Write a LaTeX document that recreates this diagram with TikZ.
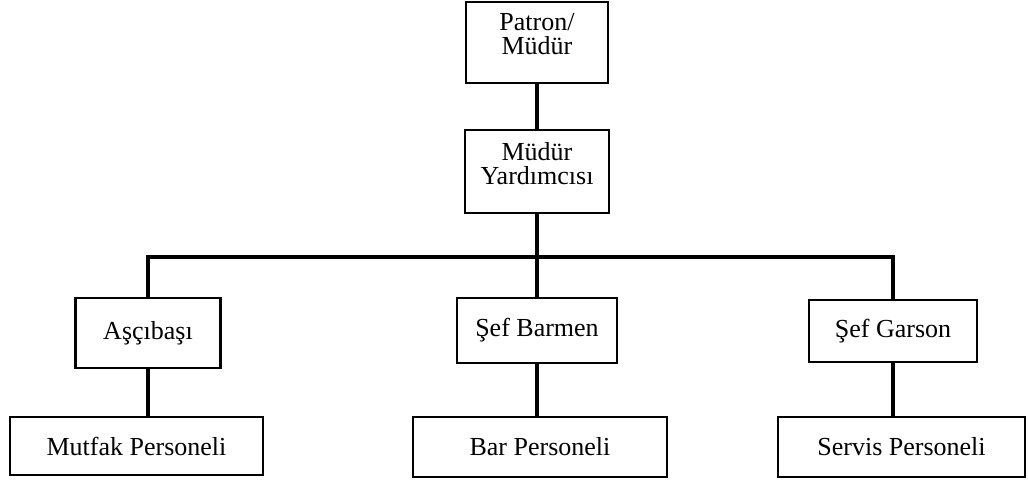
\documentclass[tikz,border=0pt]{standalone}
\usepackage{fontspec}
\setmainfont{Liberation Serif}
\begin{document}
\begin{tikzpicture}[x=1pt,y=-1pt,
  box/.style={draw, line width=2.8pt, rectangle, inner sep=0pt,
    font=\fontsize{26}{24}\selectfont},
  lbl/.style={font=\fontsize{26}{24}\selectfont, align=center, inner sep=0pt},
  link/.style={line width=3.2pt}]
\fill[white] (0,0) rectangle (1028,483);
\useasboundingbox (0,0) rectangle (1028,483);

% top management
\node[box, minimum width=142pt, minimum height=81pt] (pm) at (537,42.5) {};
\node[lbl] (pmt) at (537,34) {Patron/\\Müdür};
\node[box, minimum width=144pt, minimum height=83pt] (my) at (537,171.5) {};
\node[lbl] (myt) at (537,164) {Müdür\\Yardımcısı};

% department heads
\node[box, minimum width=145pt, minimum height=70pt] (ab) at (148,333) {Aşçıbaşı};
\node[box, minimum width=160pt, minimum height=65pt] (sb) at (537,330.5) {Şef Barmen};
\node[box, minimum width=168pt, minimum height=62pt] (sg) at (893,331) {Şef Garson};

% staff
\node[box, minimum width=253pt, minimum height=58pt] (mp) at (136.5,446) {Mutfak Personeli};
\node[box, minimum width=254pt, minimum height=60pt] (bp) at (540,447) {Bar Personeli};
\node[box, minimum width=247pt, minimum height=60pt] (sp) at (901.5,447) {Servis Personeli};

% connectors
\coordinate (bus) at (537,257);
\draw[link] (pm.south) -- (my.north);
\draw[link] (my.south) -- (bus);
\draw[link] (ab.north) |- (sg.north |- bus) -- (sg.north);
\draw[link] (sb.north) -- (sb.north |- bus);
\draw[link] (ab.south) -- (ab.south |- mp.north);
\draw[link] (sb.south) -- (sb.south |- bp.north);
\draw[link] (sg.south) -- (sg.south |- sp.north);
\end{tikzpicture}
\end{document}
